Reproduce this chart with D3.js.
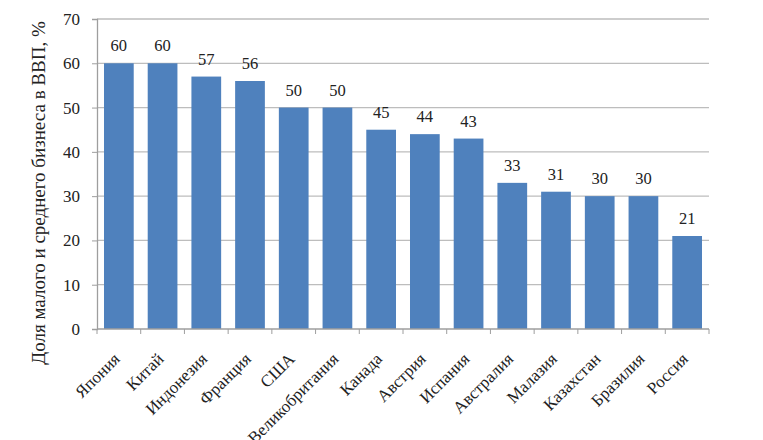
<!DOCTYPE html>
<html><head><meta charset="utf-8">
<script src="https://cdn.jsdelivr.net/npm/d3@7"></script>
<style>body{margin:0;background:#fff}svg{display:block}svg text{font-family:"Liberation Serif","Times New Roman","DejaVu Serif",serif}</style>
</head><body>
<script>
const categories = ["Япония","Китай","Индонезия","Франция","США","Великобритания","Канада","Австрия","Испания","Австралия","Малазия","Казахстан","Бразилия","Россия"];
const values = [60,60,57,56,50,50,45,44,43,33,31,30,30,21];
const yTicks = [0,10,20,30,40,50,60,70];
const yTitle = "Доля малого и среднего бизнеса в ВВП, %";

const W=763,H=440;
const m={l:97,r:54,t:19,b:111};
const svg=d3.select("body").append("svg").attr("width",W).attr("height",H);
const x=d3.scaleBand().domain(categories).range([m.l,W-m.r]).paddingInner(0.32).paddingOuter(0.16);
const y=d3.scaleLinear().domain([0,70]).range([H-m.b,m.t]);

// gridlines
svg.append("g").selectAll("line").data(yTicks.filter(d=>d>0)).join("line")
  .attr("x1",m.l).attr("x2",W-m.r).attr("y1",d=>y(d)).attr("y2",d=>y(d))
  .attr("stroke","#bdbdbd").attr("stroke-width",1.3);

// bars
svg.append("g").selectAll("rect").data(values).join("rect")
  .attr("x",(d,i)=>x(categories[i])).attr("width",x.bandwidth())
  .attr("y",d=>y(d)).attr("height",d=>y(0)-y(d)).attr("fill","#4f81bd");

// value labels
svg.append("g").selectAll("text").data(values).join("text")
  .attr("x",(d,i)=>x(categories[i])+x.bandwidth()/2).attr("y",d=>y(d)-12)
  .attr("text-anchor","middle").style("font-size","16.5px").attr("fill","#222")
  .text(d=>d);

// y axis
const ya=svg.append("g").attr("transform",`translate(${m.l},0)`)
  .call(d3.axisLeft(y).tickValues(yTicks).tickSize(5).tickPadding(12));
ya.attr("font-family",null);
ya.select(".domain").attr("stroke","#9e9e9e").attr("stroke-width",1.3);
ya.selectAll(".tick line").attr("stroke","#9e9e9e");
ya.selectAll("text").style("font-size","17px").attr("fill","#222");

// x axis
const edges=categories.map((c,i)=>m.l+i*((W-m.r-m.l)/categories.length)).concat([W-m.r]);
const xa=svg.append("g").attr("transform",`translate(0,${y(0)})`);
xa.append("line").attr("x1",m.l).attr("x2",W-m.r).attr("stroke","#9e9e9e").attr("stroke-width",1.3);
xa.selectAll("line.t").data(edges).join("line").attr("class","t")
  .attr("x1",d=>d).attr("x2",d=>d).attr("y1",0).attr("y2",5).attr("stroke","#9e9e9e");
xa.selectAll("text").data(categories).join("text")
  .attr("transform",c=>`translate(${x(c)+x.bandwidth()/2+2},${31}) rotate(-45)`)
  .attr("text-anchor","end").style("font-size","17px").attr("fill","#222")
  .text(c=>c);

// y title
svg.append("text").attr("transform",`translate(45,193) rotate(-90)`)
  .attr("text-anchor","middle").style("font-size","19px").attr("fill","#222")
  .text(yTitle);
</script>
</body></html>
